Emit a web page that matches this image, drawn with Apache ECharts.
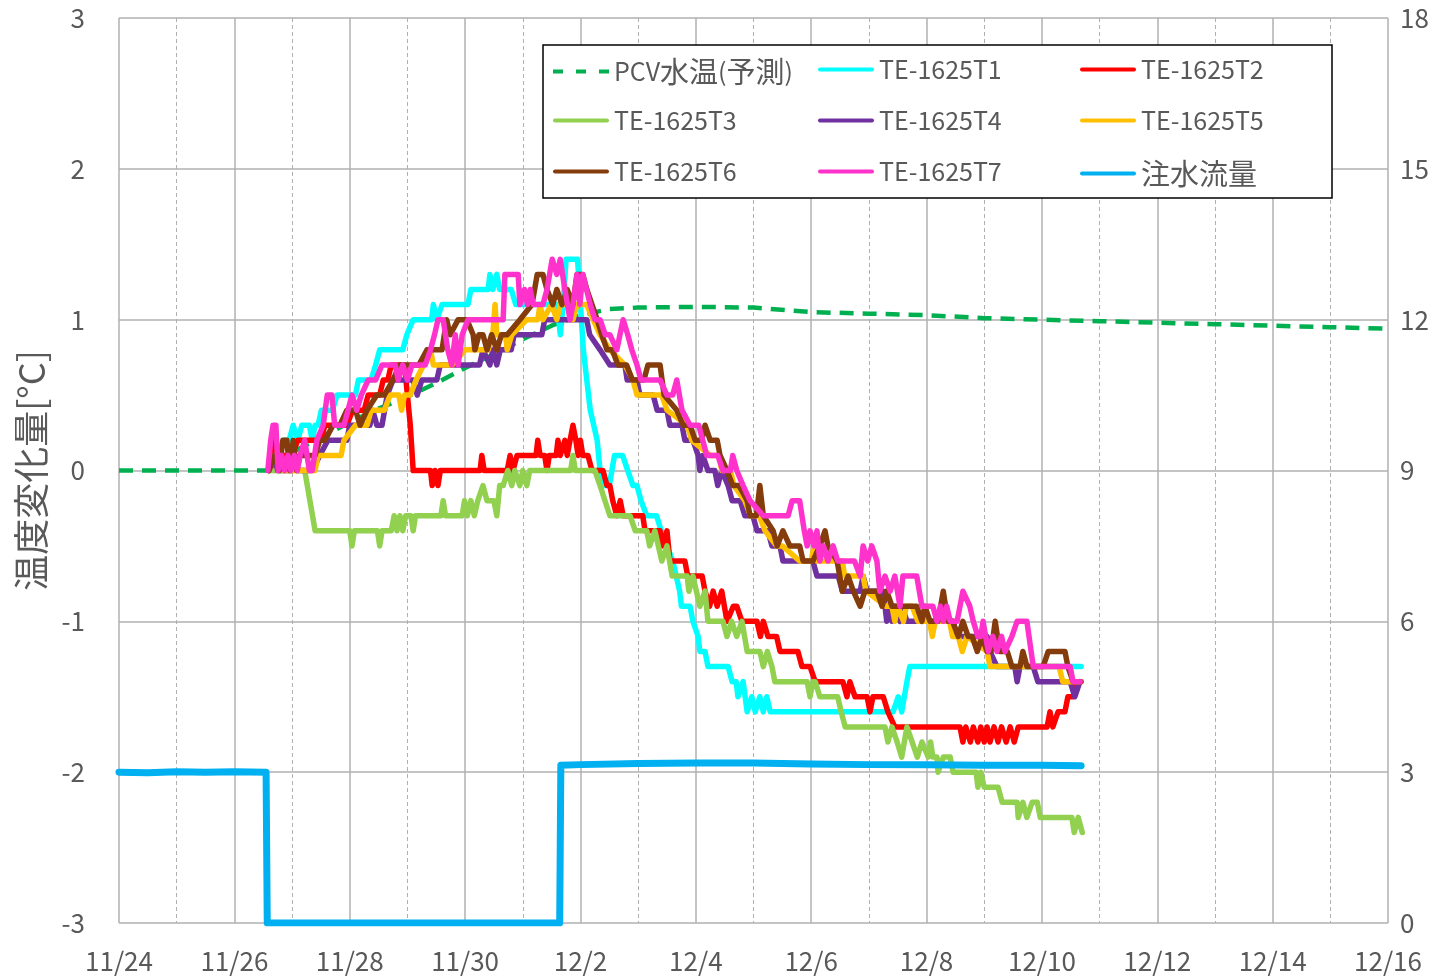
<!DOCTYPE html>
<html>
<head>
<meta charset="utf-8">
<title>温度変化量</title>
<script src="https://cdn.jsdelivr.net/npm/echarts@6.0.0/dist/echarts.min.js"></script>
<style>
    html, body {
        margin: 0;
        padding: 0;
        background: #fff;
    }

    #chart {
        width: 1449px;
        height: 976px;
    }
</style>
</head>
<body>
<div id="chart"></div>
<script>
    // x は 11/24 からの経過日数
    var xLabels = ['11/24', '11/26', '11/28', '11/30', '12/2', '12/4', '12/6', '12/8', '12/10', '12/12', '12/14', '12/16'];
    var seriesNames = ['PCV水温(予測)', 'TE-1625T1', 'TE-1625T2', 'TE-1625T3', 'TE-1625T4', 'TE-1625T5', 'TE-1625T6', 'TE-1625T7', '注水流量'];

    // PCV水温(予測)
    var pcv = [[0, 0], [2.6, 0], [3.0, 0.12], [3.5, 0.22], [4.0, 0.32], [4.5, 0.41], [5.0, 0.49], [5.5, 0.58], [6.0, 0.68],
        [6.5, 0.77], [7.0, 0.87], [7.5, 0.96], [8.0, 1.03], [8.5, 1.07], [9.0, 1.08], [10.0, 1.085], [11.0, 1.08], [12.0, 1.05],
        [13.0, 1.04], [14.0, 1.03], [15.0, 1.01], [16.0, 1.0], [17.0, 0.99], [18.0, 0.98], [19.0, 0.97], [20.0, 0.96], [21.0, 0.95], [22.0, 0.94]];

    // TE-1625T1
    var t1 = [[2.60, 0], [2.75, 0.1], [2.85, 0.2], [2.95, 0.2], [3.02, 0.3], [3.10, 0.2], [3.17, 0.3], [3.30, 0.3], [3.35, 0.2], [3.40, 0.3],
        [3.45, 0.3], [3.51, 0.4], [3.70, 0.4], [3.78, 0.5], [4.10, 0.5], [4.15, 0.6], [4.37, 0.6], [4.45, 0.7], [4.52, 0.8], [4.92, 0.8],
        [4.99, 0.9], [5.10, 1.0], [5.42, 1.0], [5.45, 1.1], [5.51, 1.0], [5.60, 1.1], [6.05, 1.1], [6.10, 1.2], [6.40, 1.2], [6.43, 1.3],
        [6.48, 1.2], [6.55, 1.3], [6.60, 1.2], [6.80, 1.2], [6.88, 1.1], [7.60, 1.1], [7.65, 0.9], [7.70, 1.1], [7.75, 1.4], [7.95, 1.4],
        [8.00, 1.1], [8.05, 0.8], [8.17, 0.4], [8.29, 0.2], [8.34, 0], [8.40, -0.1], [8.50, -0.1], [8.59, 0.1], [8.73, 0.1], [8.82, 0],
        [8.91, -0.1], [8.98, -0.1], [9.05, -0.2], [9.15, -0.3], [9.32, -0.3], [9.40, -0.4], [9.60, -0.6], [9.72, -0.8], [9.75, -0.9],
        [9.90, -0.9], [9.95, -1.0], [10.04, -1.1], [10.07, -1.2], [10.16, -1.2], [10.21, -1.3], [10.56, -1.3], [10.63, -1.4], [10.70, -1.4],
        [10.73, -1.5], [10.82, -1.4], [10.89, -1.6], [10.97, -1.5], [11.03, -1.6], [11.11, -1.5], [11.17, -1.6], [11.23, -1.5], [11.29, -1.6],
        [13.42, -1.6], [13.51, -1.5], [13.57, -1.6], [13.66, -1.4], [13.71, -1.3], [16.68, -1.3]];

    // TE-1625T2
    var t2 = [[2.60, 0], [2.65, 0.2], [2.70, 0], [2.80, 0.1], [3.00, 0.1], [3.10, 0.2], [3.50, 0.2], [3.57, 0.3], [3.95, 0.3], [4.05, 0.4],
        [4.25, 0.4], [4.32, 0.5], [4.52, 0.5], [4.58, 0.6], [4.66, 0.6], [4.72, 0.7], [4.95, 0.7], [5.00, 0.5], [5.05, 0.3], [5.10, 0],
        [5.40, 0], [5.43, -0.1], [5.48, 0], [5.53, -0.1], [5.57, 0], [6.26, 0], [6.29, 0.1], [6.33, 0], [6.73, 0], [6.78, 0.1], [6.83, 0],
        [6.90, 0.1], [7.23, 0.1], [7.26, 0.2], [7.30, 0.1], [7.38, 0.1], [7.42, 0], [7.46, 0.1], [7.58, 0.1], [7.61, 0.2], [7.65, 0.1],
        [7.73, 0.2], [7.77, 0.1], [7.82, 0.2], [7.87, 0.3], [7.92, 0.2], [7.96, 0.1], [8.00, 0.2], [8.04, 0.1], [8.13, 0.1], [8.20, 0],
        [8.39, 0], [8.46, -0.1], [8.51, -0.1], [8.56, -0.2], [8.63, -0.3], [8.69, -0.2], [8.74, -0.3], [9.08, -0.3], [9.12, -0.4],
        [9.38, -0.4], [9.43, -0.5], [9.50, -0.4], [9.55, -0.6], [9.81, -0.6], [9.86, -0.7], [10.11, -0.7], [10.16, -0.8], [10.24, -0.9],
        [10.30, -0.8], [10.37, -0.9], [10.45, -0.8], [10.54, -1.0], [10.65, -0.9], [10.71, -0.9], [10.80, -1.0], [11.06, -1.0],
        [11.12, -1.1], [11.17, -1.0], [11.25, -1.1], [11.40, -1.1], [11.46, -1.2], [11.77, -1.2], [11.84, -1.3], [11.98, -1.3],
        [12.07, -1.4], [12.55, -1.4], [12.62, -1.5], [12.67, -1.4], [12.76, -1.5], [12.97, -1.5], [13.02, -1.6], [13.07, -1.5],
        [13.25, -1.5], [13.33, -1.6], [13.45, -1.7], [14.58, -1.7], [14.63, -1.8], [14.68, -1.7], [14.76, -1.8], [14.81, -1.7],
        [14.89, -1.8], [14.94, -1.7], [15.00, -1.8], [15.05, -1.7], [15.10, -1.8], [15.17, -1.7], [15.24, -1.8], [15.30, -1.7],
        [15.38, -1.8], [15.45, -1.7], [15.52, -1.8], [15.59, -1.7], [16.09, -1.7], [16.14, -1.6], [16.19, -1.7], [16.28, -1.6],
        [16.40, -1.6], [16.45, -1.5], [16.54, -1.5], [16.61, -1.4], [16.68, -1.4]];

    // TE-1625T3
    var t3 = [[2.60, 0], [3.22, 0], [3.31, -0.2], [3.40, -0.4], [4.00, -0.4], [4.04, -0.5], [4.08, -0.4], [4.48, -0.4], [4.52, -0.5],
        [4.56, -0.4], [4.72, -0.4], [4.77, -0.3], [4.82, -0.4], [4.87, -0.3], [4.92, -0.4], [4.97, -0.3], [5.06, -0.3], [5.10, -0.4],
        [5.14, -0.3], [5.58, -0.3], [5.62, -0.2], [5.66, -0.3], [5.95, -0.3], [5.99, -0.2], [6.04, -0.3], [6.10, -0.2], [6.16, -0.3],
        [6.22, -0.2], [6.31, -0.1], [6.38, -0.2], [6.50, -0.2], [6.55, -0.3], [6.60, -0.1], [6.66, -0.1], [6.74, 0], [6.81, -0.1],
        [6.86, 0], [6.95, -0.1], [7.00, 0], [7.07, -0.1], [7.12, 0], [7.83, 0], [7.87, 0.1], [7.91, 0], [8.25, 0], [8.34, -0.1],
        [8.51, -0.3], [8.86, -0.3], [8.95, -0.4], [9.15, -0.4], [9.20, -0.5], [9.29, -0.4], [9.41, -0.6], [9.50, -0.5], [9.59, -0.7],
        [9.85, -0.7], [9.88, -0.8], [9.95, -0.7], [10.07, -0.9], [10.16, -0.8], [10.21, -1.0], [10.47, -1.0], [10.54, -1.1],
        [10.62, -1.0], [10.71, -1.1], [10.80, -1.0], [10.89, -1.2], [11.11, -1.2], [11.17, -1.3], [11.24, -1.2], [11.32, -1.3],
        [11.37, -1.4], [11.93, -1.4], [11.98, -1.5], [12.03, -1.4], [12.07, -1.4], [12.15, -1.5], [12.46, -1.5], [12.52, -1.6],
        [12.59, -1.7], [13.28, -1.7], [13.33, -1.8], [13.40, -1.7], [13.49, -1.8], [13.57, -1.9], [13.66, -1.7], [13.75, -1.8],
        [13.84, -1.9], [13.92, -1.8], [14.03, -1.9], [14.07, -1.8], [14.11, -1.9], [14.18, -1.9], [14.20, -2.0], [14.29, -1.9],
        [14.41, -1.9], [14.46, -2.0], [14.86, -2.0], [14.89, -2.1], [14.94, -2.0], [15.00, -2.1], [15.24, -2.1], [15.31, -2.2],
        [15.57, -2.2], [15.59, -2.3], [15.67, -2.2], [15.74, -2.3], [15.83, -2.2], [15.92, -2.2], [15.97, -2.3], [16.52, -2.3],
        [16.56, -2.4], [16.63, -2.3], [16.70, -2.4]];

    // TE-1625T4
    var t4 = [[2.60, 0], [2.70, 0.1], [2.75, 0], [3.00, 0], [3.05, 0.1], [3.10, 0], [3.35, 0], [3.48, 0.1], [3.62, 0.2], [3.95, 0.2],
        [4.00, 0.3], [4.35, 0.3], [4.40, 0.4], [4.47, 0.3], [4.56, 0.3], [4.65, 0.5], [4.75, 0.6], [5.10, 0.6], [5.17, 0.5], [5.25, 0.6],
        [5.51, 0.6], [5.57, 0.7], [6.25, 0.7], [6.31, 0.8], [6.43, 0.7], [6.48, 0.8], [6.55, 0.7], [6.61, 0.8], [6.80, 0.8], [6.85, 0.9],
        [7.33, 0.9], [7.38, 1.0], [8.11, 1.0], [8.16, 0.9], [8.34, 0.8], [8.51, 0.7], [8.77, 0.7], [8.81, 0.6], [8.98, 0.6], [9.03, 0.5],
        [9.26, 0.5], [9.33, 0.4], [9.50, 0.4], [9.55, 0.3], [9.76, 0.3], [9.81, 0.2], [9.95, 0.2], [10.04, 0.1], [10.07, 0], [10.12, 0.1],
        [10.21, 0], [10.33, 0], [10.38, -0.1], [10.45, 0], [10.56, -0.1], [10.63, -0.2], [10.77, -0.2], [10.85, -0.3], [10.99, -0.3],
        [11.06, -0.4], [11.25, -0.4], [11.32, -0.5], [11.46, -0.5], [11.51, -0.6], [12.03, -0.6], [12.10, -0.7], [12.47, -0.7],
        [12.54, -0.8], [12.85, -0.8], [12.90, -0.7], [12.97, -0.8], [13.25, -0.8], [13.28, -0.9], [13.31, -1.0], [13.36, -0.9],
        [13.40, -1.0], [13.45, -0.9], [13.54, -1.0], [13.58, -0.9], [13.66, -1.0], [14.46, -1.0], [14.53, -1.1], [15.05, -1.1],
        [15.10, -1.2], [15.22, -1.3], [15.53, -1.3], [15.57, -1.4], [15.62, -1.3], [15.85, -1.3], [15.93, -1.4], [16.49, -1.4],
        [16.57, -1.5], [16.66, -1.4]];

    // TE-1625T5
    var t5 = [[2.60, 0], [2.70, 0.1], [2.80, 0], [3.40, 0], [3.45, 0.1], [3.85, 0.1], [3.90, 0.2], [4.10, 0.3], [4.30, 0.3], [4.37, 0.4],
        [4.60, 0.4], [4.70, 0.5], [4.85, 0.5], [4.90, 0.4], [4.95, 0.5], [5.05, 0.5], [5.15, 0.6], [5.28, 0.7], [5.40, 0.8], [5.45, 0.7],
        [5.78, 0.7], [6.00, 0.8], [6.40, 0.8], [6.48, 0.9], [6.52, 1.1], [6.55, 0.9], [6.70, 0.9], [6.73, 0.8], [6.81, 0.9], [7.07, 1.0],
        [7.26, 1.0], [7.30, 1.1], [7.35, 1.0], [7.50, 1.1], [7.59, 1.0], [7.65, 1.1], [7.80, 1.1], [7.87, 1.0], [7.94, 1.1], [8.11, 1.1],
        [8.22, 1.0], [8.34, 0.9], [8.51, 0.8], [8.77, 0.7], [8.91, 0.6], [8.98, 0.5], [9.41, 0.5], [9.50, 0.4], [9.85, 0.3], [9.93, 0.2],
        [10.25, 0.1], [10.40, 0.1], [10.45, 0], [10.60, 0], [10.66, -0.1], [10.85, -0.2], [10.95, -0.3], [11.10, -0.3], [11.20, -0.4],
        [11.40, -0.5], [11.50, -0.5], [11.80, -0.6], [12.00, -0.6], [12.05, -0.5], [12.10, -0.6], [12.54, -0.6], [12.58, -0.7],
        [12.90, -0.7], [12.95, -0.8], [13.30, -0.9], [13.40, -0.9], [13.45, -1.0], [13.50, -0.9], [13.60, -1.0], [13.65, -0.9],
        [13.75, -0.9], [13.85, -1.0], [14.05, -1.0], [14.10, -1.1], [14.15, -1.0], [14.40, -1.0], [14.45, -1.1], [14.55, -1.1],
        [14.62, -1.2], [14.70, -1.1], [15.05, -1.2], [15.10, -1.3], [16.30, -1.3], [16.36, -1.4], [16.66, -1.4]];

    // TE-1625T6
    var t6 = [[2.60, 0], [2.70, 0.1], [2.78, 0], [2.84, 0.2], [2.91, 0.2], [2.96, 0], [3.02, 0.2], [3.08, 0], [3.14, 0.1], [3.40, 0.1],
        [3.48, 0.2], [3.57, 0.2], [3.71, 0.3], [3.83, 0.3], [3.95, 0.4], [4.10, 0.4], [4.18, 0.3], [4.30, 0.4], [4.47, 0.5], [4.60, 0.5],
        [4.75, 0.6], [4.87, 0.7], [5.20, 0.7], [5.34, 0.8], [5.60, 0.8], [5.68, 1.0], [5.74, 0.9], [5.88, 1.0], [6.03, 1.0], [6.14, 0.9],
        [6.17, 0.8], [6.24, 0.9], [6.31, 0.9], [6.38, 0.8], [6.46, 0.9], [6.55, 0.8], [6.63, 0.9], [6.73, 0.9], [6.95, 1.0], [7.16, 1.1],
        [7.25, 1.3], [7.35, 1.3], [7.42, 1.2], [7.52, 1.1], [7.59, 1.2], [7.68, 1.1], [7.77, 1.2], [7.87, 1.1], [7.94, 1.3], [8.04, 1.3],
        [8.11, 1.2], [8.20, 1.1], [8.29, 1.0], [8.37, 0.9], [8.46, 0.8], [8.55, 0.8], [8.65, 0.7], [8.80, 0.7], [8.90, 0.6], [9.10, 0.6],
        [9.17, 0.7], [9.38, 0.7], [9.45, 0.5], [9.67, 0.4], [9.78, 0.3], [9.90, 0.3], [9.99, 0.2], [10.10, 0.2], [10.16, 0.3],
        [10.25, 0.2], [10.37, 0.2], [10.42, 0.1], [10.54, 0], [10.64, -0.1], [10.75, -0.1], [10.89, -0.2], [10.94, -0.3], [11.05, -0.3],
        [11.11, -0.1], [11.17, -0.3], [11.34, -0.4], [11.41, -0.5], [11.51, -0.4], [11.63, -0.5], [11.80, -0.5], [11.86, -0.6],
        [12.03, -0.6], [12.15, -0.5], [12.24, -0.4], [12.29, -0.5], [12.45, -0.6], [12.54, -0.8], [12.64, -0.7], [12.73, -0.8],
        [12.85, -0.9], [12.93, -0.8], [13.14, -0.8], [13.23, -0.9], [13.31, -0.8], [13.40, -0.9], [13.83, -0.9], [13.92, -1.0],
        [13.97, -0.9], [14.06, -1.0], [14.20, -1.0], [14.29, -0.8], [14.37, -1.0], [14.45, -1.0], [14.55, -1.1], [14.63, -1.0],
        [14.72, -1.1], [14.79, -1.1], [14.88, -1.2], [14.96, -1.1], [15.05, -1.2], [15.12, -1.2], [15.19, -1.0], [15.27, -1.2],
        [15.40, -1.2], [15.48, -1.3], [15.62, -1.3], [15.67, -1.2], [15.74, -1.3], [16.02, -1.3], [16.11, -1.2], [16.40, -1.2],
        [16.45, -1.3], [16.54, -1.4], [16.66, -1.4]];

    // TE-1625T7
    var t7 = [[2.58, 0], [2.63, 0.2], [2.67, 0.3], [2.72, 0.3], [2.76, 0], [2.82, 0.1], [2.87, 0], [2.93, 0.1], [2.98, 0], [3.04, 0.1],
        [3.09, 0], [3.14, 0.1], [3.22, 0.2], [3.30, 0], [3.35, 0], [3.43, 0.2], [3.54, 0.3], [3.61, 0.5], [3.69, 0.5], [3.74, 0.3],
        [3.90, 0.3], [3.97, 0.4], [4.04, 0.5], [4.12, 0.4], [4.20, 0.5], [4.32, 0.6], [4.45, 0.6], [4.56, 0.7], [4.79, 0.7], [4.84, 0.6],
        [4.92, 0.7], [5.00, 0.6], [5.08, 0.7], [5.31, 0.7], [5.40, 0.8], [5.47, 0.9], [5.53, 1.0], [5.62, 1.0], [5.70, 0.8], [5.77, 0.7],
        [5.83, 0.9], [5.88, 0.7], [5.95, 0.9], [6.05, 1.0], [6.66, 1.0], [6.69, 1.3], [6.92, 1.3], [6.95, 1.1], [7.03, 1.2], [7.08, 1.1],
        [7.13, 1.2], [7.18, 1.1], [7.35, 1.1], [7.42, 1.2], [7.51, 1.4], [7.59, 1.3], [7.65, 1.4], [7.73, 1.2], [7.82, 1.0], [7.87, 1.1],
        [7.94, 1.3], [7.99, 1.1], [8.04, 1.3], [8.17, 1.1], [8.25, 1.0], [8.34, 1.0], [8.43, 0.9], [8.51, 0.9], [8.63, 0.8], [8.74, 1.0],
        [8.82, 0.9], [8.89, 0.8], [8.98, 0.7], [9.05, 0.6], [9.38, 0.6], [9.50, 0.5], [9.60, 0.5], [9.67, 0.6], [9.76, 0.4], [9.90, 0.3],
        [10.05, 0.3], [10.19, 0.1], [10.38, 0.1], [10.47, 0], [10.60, 0], [10.64, 0.1], [10.71, 0], [10.82, -0.1], [10.94, -0.2],
        [11.17, -0.3], [11.46, -0.3], [11.60, -0.3], [11.67, -0.2], [11.80, -0.2], [11.88, -0.4], [11.93, -0.5], [11.98, -0.4],
        [12.05, -0.5], [12.10, -0.4], [12.15, -0.6], [12.21, -0.5], [12.29, -0.6], [12.38, -0.5], [12.46, -0.6], [12.75, -0.6],
        [12.85, -0.7], [12.90, -0.5], [12.98, -0.6], [13.05, -0.5], [13.14, -0.6], [13.19, -0.8], [13.28, -0.7], [13.37, -0.8],
        [13.45, -0.7], [13.54, -0.9], [13.59, -0.7], [13.83, -0.7], [13.92, -0.9], [14.11, -0.9], [14.18, -1.0], [14.24, -0.9],
        [14.29, -1.0], [14.35, -0.9], [14.41, -1.0], [14.53, -1.0], [14.63, -0.8], [14.75, -0.9], [14.81, -1.0], [14.89, -1.1],
        [14.94, -1.1], [14.98, -1.0], [15.07, -1.2], [15.15, -1.1], [15.22, -1.2], [15.30, -1.1], [15.36, -1.2], [15.48, -1.1],
        [15.57, -1.0], [15.74, -1.0], [15.85, -1.3], [16.49, -1.3], [16.54, -1.4], [16.66, -1.4]];

    // 注水流量（右軸）
    var flow = [[0, 3.0], [0.5, 2.99], [1.0, 3.01], [1.5, 3.0], [2.0, 3.01], [2.55, 3.0], [2.57, 0], [7.64, 0], [7.66, 3.14],
        [8, 3.15], [9, 3.17], [10, 3.18], [11, 3.18], [12, 3.16], [13, 3.15], [14, 3.15], [15, 3.14], [16, 3.14], [16.68, 3.13]];

    var colors = ['#00b050', '#00ffff', '#ff0000', '#92d050', '#7030a0', '#ffc000', '#843c0c', '#ff33cc', '#00b0f0'];
    var dataList = [pcv, t1, t2, t3, t4, t5, t6, t7, flow];

    var fontName = '"Noto Sans CJK JP", "Noto Sans", sans-serif';
    var labelColor = '#595959';

    var series = dataList.map(function (d, i) {
        var s = {
            name: seriesNames[i],
            type: 'line',
            data: d,
            showSymbol: false,
            symbol: 'none',
            animation: false,
            lineStyle: { color: colors[i], width: 5.5, join: 'round', cap: 'round' },
            itemStyle: { color: colors[i] }
        };
        if (i === 0) {
            s.lineStyle.type = [14, 9];
            s.lineStyle.width = 4.5;
            s.lineStyle.cap = 'butt';
        }
        if (i === 8) {
            s.yAxisIndex = 1;
            s.lineStyle.width = 7;
        }
        return s;
    });

    // 凡例は 3 列 x 3 行で個別に配置（線のアイコン）
    var legendCols = [553, 818, 1080];
    var legendRows = [57, 108, 159];
    var solidIcon = 'path://M2,0h52a2,2 0 0 1 0,4h-52a2,2 0 0 1 0,-4z';
    var dashIcon = 'path://M0,0h10v4h-10z M23,0h10v4h-10z M46,0h10v4h-10z';
    var legends = seriesNames.map(function (name, i) {
        return {
            data: [{ name: name, icon: i === 0 ? dashIcon : solidIcon }],
            left: legendCols[i % 3],
            top: legendRows[Math.floor(i / 3)],
            padding: 0,
            itemWidth: 56,
            itemHeight: 4,
            z: 6,
            // 漢字部分だけ少し大きく
            formatter: function (n) {
                return n.replace(/([\u3040-\u9fff]+)/g, '{c|$1}');
            },
            textStyle: {
                fontSize: 25,
                color: labelColor,
                fontFamily: fontName,
                rich: { c: { fontSize: 29, color: labelColor, fontFamily: fontName } }
            },
            selectedMode: false
        };
    });

    var chart = echarts.init(document.getElementById('chart'));
    chart.setOption({
        backgroundColor: '#fff',
        animation: false,
        grid: { left: 119, right: 61, top: 18, bottom: 53 },
        legend: legends,
        graphic: [{
            type: 'rect',
            z: 5,
            shape: { x: 543, y: 45, width: 789, height: 153 },
            style: { fill: '#fff', stroke: '#000', lineWidth: 1.5 }
        }],
        xAxis: {
            type: 'value',
            min: 0,
            max: 22,
            interval: 2,
            axisLine: { show: false },
            axisTick: { show: false },
            axisLabel: {
                margin: 25,
                fontSize: 26,
                color: labelColor,
                fontFamily: fontName,
                formatter: function (v) { return xLabels[v / 2]; }
            },
            splitLine: { show: true, lineStyle: { color: '#b0b0b0', width: 1.5 } },
            minorTick: { show: false, splitNumber: 2 },
            minorSplitLine: { show: true, lineStyle: { color: '#b0b0b0', width: 1, type: [4, 3] } }
        },
        yAxis: [{
            type: 'value',
            min: -3,
            max: 3,
            interval: 1,
            name: '温度変化量[°C]',
            nameLocation: 'middle',
            nameGap: 70,
            nameRotate: 90,
            nameTextStyle: { fontSize: 36, color: labelColor, fontFamily: fontName },
            axisLine: { show: false },
            axisTick: { show: false },
            axisLabel: { margin: 34, fontSize: 26, color: labelColor, fontFamily: fontName },
            splitLine: { show: true, lineStyle: { color: '#b0b0b0', width: 1.5 } }
        }, {
            type: 'value',
            min: 0,
            max: 18,
            interval: 3,
            position: 'right',
            axisLine: { show: false },
            axisTick: { show: false },
            axisLabel: { margin: 12, fontSize: 26, color: labelColor, fontFamily: fontName },
            splitLine: { show: false }
        }],
        series: series
    });
</script>
</body>
</html>
